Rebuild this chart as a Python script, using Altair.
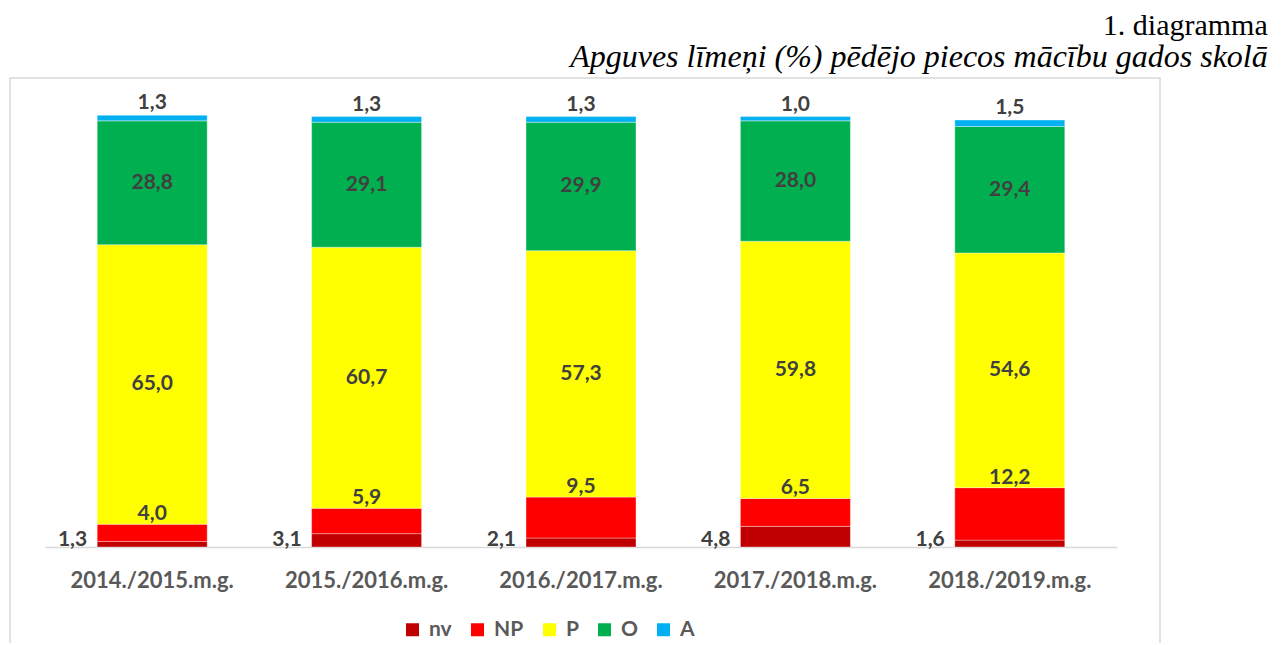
import altair as alt
import pandas as pd

years = ["2014./2015.m.g.", "2015./2016.m.g.", "2016./2017.m.g.", "2017./2018.m.g.", "2018./2019.m.g."]
levels = ["nv", "NP", "P", "O", "A"]
colors = ["#C00000", "#FF0000", "#FFFF00", "#00B050", "#00B0F0"]
nv = [1.3, 3.1, 2.1, 4.8, 1.6]
NP = [4.0, 5.9, 9.5, 6.5, 12.2]
P = [65.0, 60.7, 57.3, 59.8, 54.6]
O = [28.8, 29.1, 29.9, 28.0, 29.4]
A = [1.3, 1.3, 1.3, 1.0, 1.5]

series = {"nv": nv, "NP": NP, "P": P, "O": O, "A": A}
rows = []
for i, yr in enumerate(years):
    base = 0.0
    for k, lv in enumerate(levels):
        v = series[lv][i]
        rows.append({"year": yr, "level": lv, "order": k, "value": v,
                     "y0": base, "y1": base + v, "mid": base + v / 2,
                     "label": f"{v:.1f}".replace(".", ",")})
        base += v
df = pd.DataFrame(rows)

W, H = 1072, 430
xenc = alt.X("year:N", sort=years, title=None,
             scale=alt.Scale(paddingInner=0.487, paddingOuter=0.2435),
             axis=alt.Axis(labelFont="Lato", labelFontWeight="bold", labelFontSize=22,
                           labelColor="#595959", labelAngle=0, ticks=False, tickSize=0,
                           labelBaseline="alphabetic", labelPadding=40,
                           domainColor="#D9D9D9", domainWidth=1.5, grid=False))
yscale = alt.Scale(domain=[0, 100], nice=False, zero=True)

base = alt.Chart(df)

frame = alt.Chart(pd.DataFrame({"a": [0]})).mark_rect(
    fill="white", fillOpacity=0, stroke="#D9D9D9", strokeWidth=1.5
).encode(x=alt.value(-35), x2=alt.value(1115), y=alt.value(-39), y2=alt.value(560))

bars = base.mark_bar(stroke="white", strokeWidth=0.6, strokeOpacity=0.6).encode(
    x=xenc,
    y=alt.Y("y0:Q", scale=yscale, axis=None),
    y2="y1:Q",
    color=alt.Color("level:N", scale=alt.Scale(domain=levels, range=colors),
                    legend=alt.Legend(title=None, orient="none", direction="horizontal",
                                      legendX=357, legendY=502, symbolType="square",
                                      symbolSize=169, symbolStrokeWidth=0,
                                      labelFont="Lato", labelFontWeight="bold",
                                      labelFontSize=21, labelColor="#595959",
                                      labelOffset=6, columnPadding=15, padding=0,
                                      columns=5)),
    order=alt.Order("order:Q"),
)

tstyle = dict(font="Lato", fontWeight="bold", fontSize=21, color="#404040")

t_nv = base.transform_filter(alt.datum.level == "nv").mark_text(
    align="right", baseline="alphabetic", dx=-65, dy=-1, **tstyle
).encode(x=alt.X("year:N", sort=years), y=alt.Y("y0:Q", scale=yscale), text="label:N")

t_np = base.transform_filter(alt.datum.level == "NP").mark_text(
    align="center", baseline="alphabetic", dy=-4, **tstyle
).encode(x=alt.X("year:N", sort=years), y=alt.Y("y1:Q", scale=yscale), text="label:N")

t_mid = base.transform_filter((alt.datum.level == "P") | (alt.datum.level == "O")).mark_text(
    align="center", baseline="middle", **tstyle
).encode(x=alt.X("year:N", sort=years), y=alt.Y("mid:Q", scale=yscale), text="label:N")

t_a = base.transform_filter(alt.datum.level == "A").mark_text(
    align="center", baseline="alphabetic", dy=-6, **tstyle
).encode(x=alt.X("year:N", sort=years), y=alt.Y("y1:Q", scale=yscale), text="label:N")

chart = alt.layer(frame, bars, t_nv, t_np, t_mid, t_a).properties(
    width=W, height=H,
    autosize=alt.AutoSizeParams(type="none"),
    padding={"left": 37, "top": 109, "right": 155, "bottom": 96},
    title=alt.TitleParams(
        text="1. diagramma",
        subtitle="Apguves līmeņi (%) pēdējo piecos mācību gados skolā",
        anchor="end", dx=107, dy=0,
        font="Liberation Serif", fontSize=30, fontWeight="normal", color="black",
        subtitleFont="Liberation Serif", subtitleFontSize=32, subtitleFontStyle="italic",
        subtitleColor="black", subtitlePadding=1,
    ),
).configure_view(stroke=None)

chart.save("out.html", embed_options={"renderer": "svg", "actions": False})
